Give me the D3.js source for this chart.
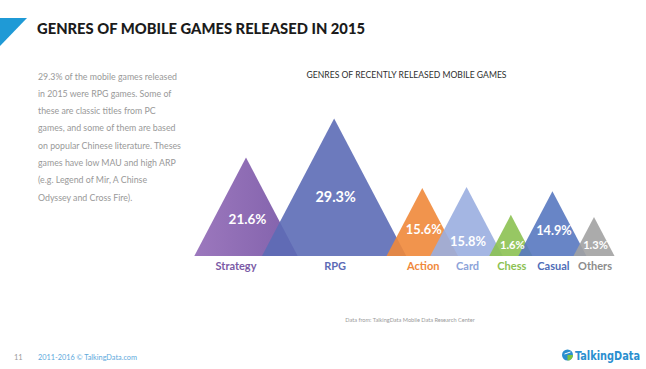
<!DOCTYPE html>
<html>
<head>
<meta charset="utf-8">
<script src="https://cdn.jsdelivr.net/npm/d3@7"></script>
<style>
  body { margin: 0; background: #fff; }
  svg { display: block; font-family: Lato, "Open Sans", sans-serif; }
</style>
</head>
<body>
<div id="chart"></div>
<script>
// Data
var genres = ["Strategy", "RPG", "Action", "Card", "Chess", "Casual", "Others"];
var shares = [21.6, 29.3, 15.6, 15.8, 1.6, 14.9, 1.3];

var introLines = [
  "29.3% of the mobile games released",
  "in 2015 were RPG games. Some of",
  "these are classic titles from PC",
  "games, and some of them are based",
  "on popular Chinese literature. Theses",
  "games have low MAU and high ARP",
  "(e.g. Legend of Mir, A Chinse",
  "Odyssey and Cross Fire)."
];

var triColors = ["url(#stratGrad)", "#5c6bb6", "#f0883a", "#9aaee0", "#8cc152", "#5878c0", "#a2a2a2"];
var labelColors = ["#7b5aa6", "#5c6bb6", "#f0883a", "#8ca3d9", "#8cc152", "#4f6db8", "#8c8c8c"];

var svgWidth = 646;
var svgHeight = 369;
var base = 256;

var svg = d3.select("#chart")
  .append("svg")
  .attr("width", svgWidth)
  .attr("height", svgHeight);

var defs = svg.append("defs");
var grad = defs.append("linearGradient")
  .attr("id", "stratGrad")
  .attr("x1", "0").attr("x2", "1").attr("y1", "0").attr("y2", "0");
grad.append("stop").attr("offset", "0").attr("stop-color", "#9169b6");
grad.append("stop").attr("offset", "1").attr("stop-color", "#7350a2");

// Header
svg.append("path")
  .attr("d", "M0,18 L27,18 L0,46 Z")
  .attr("fill", "#1f9ad6");

svg.append("text")
  .attr("x", 37)
  .attr("y", 34)
  .attr("font-size", 15.5)
  .attr("font-weight", 900)
  .attr("fill", "#1b1b1b")
  .attr("textLength", 328)
  .attr("lengthAdjust", "spacingAndGlyphs")
  .text("GENRES OF MOBILE GAMES RELEASED IN 2015");

// Intro paragraph
svg.append("g")
  .selectAll("text")
  .data(introLines)
  .enter()
  .append("text")
  .attr("x", 38)
  .attr("y", function(d, i) { return 79.5 + i * 17.3; })
  .attr("font-size", 8.8)
  .attr("fill", "#999")
  .text(function(d) { return d; });

// Chart title
svg.append("text")
  .attr("x", 406.5)
  .attr("y", 77.5)
  .attr("text-anchor", "middle")
  .attr("font-size", 9.4)
  .attr("fill", "#2e2e2e")
  .attr("textLength", 200)
  .attr("lengthAdjust", "spacingAndGlyphs")
  .text("GENRES OF RECENTLY RELEASED MOBILE GAMES");

// Scales
// infographic height scale: small shares kept visible
var yScale = d3.scaleLinear()
  .domain([0, 2, 15, 30])
  .range([base - 30, base - 44, base - 65, base - 141]);

var heights = shares.map(function(v) { return base - yScale(v); });
var halves = heights.map(function(h) { return h * 0.525; });

// overlapping placement: step by the wider neighbour, scaled onto the chart span
var cum = [0];
for (var i = 1; i < shares.length; i++) {
  cum.push(cum[i - 1] + Math.max(halves[i - 1], halves[i]));
}
var xScale = d3.scaleLinear()
  .domain([0, cum[cum.length - 1]])
  .range([246, 594]);

var data = genres.map(function(g, i) {
  return { genre: g, share: shares[i], cx: xScale(cum[i]), top: yScale(shares[i]), half: halves[i], h: heights[i], i: i };
});

var fontScale = d3.scaleLinear().domain([0, 30]).range([11, 14.5]);

var chartGroup = svg.append("g");

chartGroup.selectAll("path.tri")
  .data(data)
  .enter()
  .append("path")
  .attr("class", "tri")
  .attr("d", function(d) {
    return "M" + (d.cx - d.half) + "," + base + " L" + d.cx + "," + d.top + " L" + (d.cx + d.half) + "," + base + " Z";
  })
  .attr("fill", function(d) { return triColors[d.i]; })
  .attr("fill-opacity", 0.9);

// percentage labels
chartGroup.selectAll("text.pct")
  .data(data)
  .enter()
  .append("text")
  .attr("class", "pct")
  .attr("x", function(d) { return d.cx + 1.5; })
  .attr("y", function(d) {
    if (d.h < 50) return base - 7.5;
    if (d.genre === "Card") return base - 10;
    return base - d.h * (d.share > 25 ? 0.39 : 0.33);
  })
  .attr("text-anchor", "middle")
  .attr("font-weight", 700)
  .attr("font-size", function(d) { return fontScale(d.share); })
  .attr("fill", "#fff")
  .text(function(d) { return d.share + "%"; });

// category labels
chartGroup.selectAll("text.cat")
  .data(data)
  .enter()
  .append("text")
  .attr("class", "cat")
  .attr("x", function(d) { return d.genre === "Strategy" ? d.cx - 10 : d.cx + 1; })
  .attr("y", 270)
  .attr("text-anchor", "middle")
  .attr("font-weight", 700)
  .attr("font-size", 11)
  .attr("fill", function(d) { return labelColors[d.i]; })
  .text(function(d) { return d.genre; });

// Source
svg.append("text")
  .attr("x", 410)
  .attr("y", 322)
  .attr("text-anchor", "middle")
  .attr("font-size", 5.6)
  .attr("fill", "#9a9a9a")
  .text("Data from: TalkingData Mobile Data Research Center");

// Footer
svg.append("text")
  .attr("x", 14)
  .attr("y", 360)
  .attr("font-size", 7.5)
  .attr("fill", "#9a9a9a")
  .text("11");

svg.append("text")
  .attr("x", 38)
  .attr("y", 360)
  .attr("font-size", 8)
  .attr("fill", "#5da9dc")
  .attr("textLength", 99)
  .attr("lengthAdjust", "spacingAndGlyphs")
  .text("2011-2016 © TalkingData.com");

var logo = svg.append("g").attr("transform", "translate(567.5,355)");
logo.append("circle").attr("r", 5.5).attr("fill", "#2b8fcf");
logo.append("path").attr("d", "M0,0 L5.5,0 A5.5,5.5 0 0,1 0,5.5 Z").attr("fill", "#7cc242");
logo.append("path").attr("d", "M-3,-1 L3,-3").attr("stroke", "#fff").attr("stroke-width", 1);

svg.append("text")
  .attr("x", 575)
  .attr("y", 359.5)
  .attr("font-family", "'DejaVu Sans Condensed', 'DejaVu Sans', sans-serif")
  .attr("font-weight", 700)
  .attr("font-size", 12)
  .attr("fill", "#2b8fcf")
  .attr("textLength", 65)
  .attr("lengthAdjust", "spacingAndGlyphs")
  .text("TalkingData");
</script>
</body>
</html>
